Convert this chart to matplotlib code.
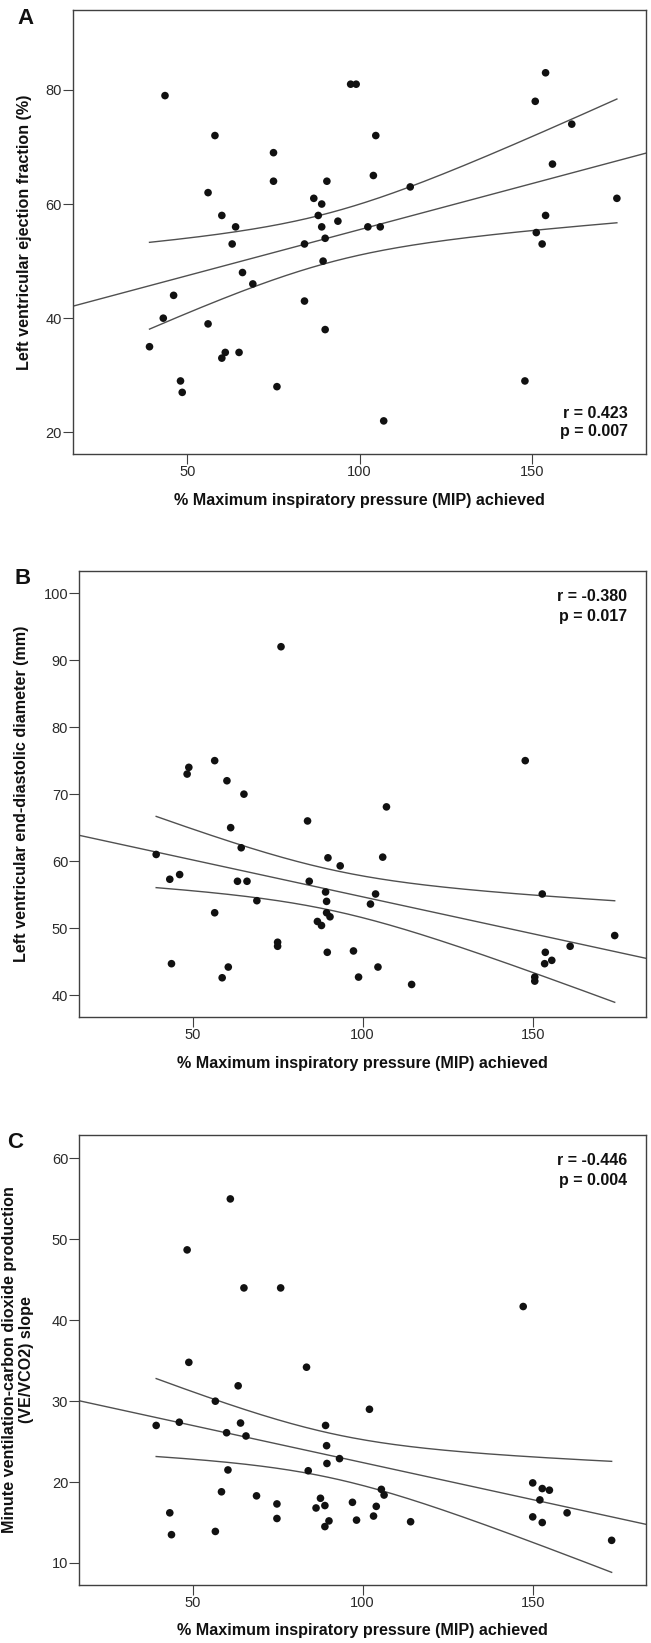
import numpy as np
import matplotlib
matplotlib.use('Agg')
import matplotlib.pyplot as plt

plt.rcParams['font.family'] = ['Liberation Sans', 'DejaVu Sans']

# Datos (% MIP alcanzado vs cada variable)
mip_a = [43.5, 58, 56, 60, 64, 63, 75, 75, 86.7, 89, 88, 90.5, 89, 90, 84, 93.7,
         97.4, 99, 104.7, 104, 102.4, 106, 114.7, 151, 154, 161.6, 156, 154, 151.3,
         153, 174.7, 89.4, 66, 69, 46, 43, 56, 84, 90, 39, 61, 60, 65, 48, 48.5,
         76, 107, 148]
lvef = [79, 72, 62, 58, 56, 53, 69, 64, 61, 60, 58, 64, 56, 54, 53, 57, 81, 81,
        72, 65, 56, 56, 63, 78, 83, 74, 67, 58, 55, 53, 61, 50, 48, 46, 44, 40,
        39, 43, 38, 35, 34, 33, 34, 29, 27, 28, 22, 29]

mip_b = [76, 56.5, 48.9, 48.4, 60.1, 147.8, 65.1, 107, 83.8, 61.2, 64.3, 39.3,
         89.8, 105.9, 93.4, 43.3, 46.2, 63.2, 66, 84.3, 89.1, 89.4, 103.8, 102.3,
         68.9, 56.5, 89.4, 90.4, 86.7, 87.9, 75, 75, 89.6, 97.3, 43.8, 60.5, 58.7,
         98.8, 104.5, 114.4, 152.8, 153.7, 153.5, 155.6, 161, 150.6, 150.6, 174.1]
lvedd = [92, 75, 74, 73, 72, 75, 70, 68.1, 66, 65, 62, 61, 60.5, 60.6, 59.3, 57.3,
         58, 57, 57, 57, 55.4, 54, 55.1, 53.6, 54.1, 52.3, 52.3, 51.7, 51, 50.4,
         47.9, 47.3, 46.4, 46.6, 44.7, 44.2, 42.6, 42.7, 44.2, 41.6, 55.1, 46.4,
         44.7, 45.2, 47.3, 42.7, 42.1, 48.9]

mip_c = [61.1, 48.4, 65.1, 75.9, 147.2, 48.9, 83.5, 63.4, 56.7, 102, 39.3, 46.1,
         64.1, 89.1, 60, 65.7, 89.4, 93.2, 89.5, 60.4, 84, 58.5, 68.8, 74.8, 74.8,
         87.6, 86.3, 88.9, 97, 104, 105.5, 106.3, 103.2, 98.2, 90.1, 88.9, 114.1,
         43.3, 43.8, 56.7, 150, 152.8, 154.9, 152.1, 150, 152.8, 160.1, 173.2]
veco2 = [55, 48.7, 44, 44, 41.7, 34.8, 34.2, 31.9, 30, 29, 27, 27.4, 27.3, 27,
         26.1, 25.7, 24.5, 22.9, 22.3, 21.5, 21.4, 18.8, 18.3, 17.3, 15.5, 18,
         16.8, 17.1, 17.5, 17, 19.1, 18.4, 15.8, 15.3, 15.2, 14.5, 15.1, 16.2,
         13.5, 13.9, 19.9, 19.2, 19, 17.8, 15.7, 15, 16.2, 12.8]

x_label = '% Maximum inspiratory pressure (MIP) achieved'
x_ticks = [50, 100, 150]
x_lim = (16.7, 183.3)
T_CRIT = 2.013  # t(0.975, gl ~ 46)


def recta_ic(x, y, xs):
    # recta de minimos cuadrados y error estandar de la media ajustada
    x = np.asarray(x, float)
    y = np.asarray(y, float)
    n = len(x)
    b, a = np.polyfit(x, y, 1)
    s = np.sqrt(np.sum((y - (a + b * x)) ** 2) / (n - 2))
    se = s * np.sqrt(1 / n + (xs - x.mean()) ** 2 / np.sum((x - x.mean()) ** 2))
    return a, b, se


def panel(ax, x, y, ylim, yticks, ylabel, ylab_x, r_text, p_text, r_y):
    xs_full = np.linspace(x_lim[0], x_lim[1], 200)
    xs_band = np.linspace(min(x), max(x), 200)
    a, b, se = recta_ic(x, y, xs_band)
    ax.plot(xs_full, a + b * xs_full, color='#505050', lw=1.0, zorder=2)
    ax.plot(xs_band, a + b * xs_band + T_CRIT * se, color='#505050', lw=1.0, zorder=2)
    ax.plot(xs_band, a + b * xs_band - T_CRIT * se, color='#505050', lw=1.0, zorder=2)
    ax.scatter(x, y, s=30, color='#111111', edgecolors='none', zorder=3)

    ax.set_xlim(x_lim)
    ax.set_ylim(ylim)
    ax.set_xticks(x_ticks)
    ax.set_yticks(yticks)
    ax.tick_params(direction='out', length=7, width=0.8, color='#404040',
                   labelsize=10.5, labelcolor='#2a2a2a', pad=1,
                   top=False, right=False)
    for sp in ax.spines.values():
        sp.set_color('#404040')
        sp.set_linewidth(1.0)

    ax.set_xlabel(x_label, fontsize=11.6, fontweight='bold', color='#111111')
    ax.xaxis.set_label_coords(0.5, -46 / (ax.get_position().height * 1643))
    ax.xaxis.label.set_va('center')
    ax.set_ylabel(ylabel, fontsize=11.6, fontweight='bold', color='#111111',
                  linespacing=1.15)
    w = ax.get_position().width * 651
    x0 = ax.get_position().x0 * 651
    ax.yaxis.set_label_coords((ylab_x - x0) / w, 0.5)
    ax.yaxis.label.set_va('center')

    ax.text(0.967, r_y[0], r_text, transform=ax.transAxes, ha='right', va='center',
            fontsize=11.5, fontweight='bold', color='#111111')
    ax.text(0.967, r_y[1], p_text, transform=ax.transAxes, ha='right', va='center',
            fontsize=11.5, fontweight='bold', color='#111111')


fig = plt.figure(figsize=(6.51, 16.43), dpi=100)
H = 1643.0
W = 651.0

axA = fig.add_axes([72.7 / W, 1 - 454 / H, (646.5 - 72.7) / W, (454 - 10) / H])
axB = fig.add_axes([79.3 / W, 1 - 1017.3 / H, (646 - 79.3) / W, (1017.3 - 571) / H])
axC = fig.add_axes([79.3 / W, 1 - 1585 / H, (646 - 79.3) / W, (1585 - 1135) / H])

panel(axA, mip_a, lvef, (16.2, 94), [20, 40, 60, 80],
      'Left ventricular ejection fraction (%)', 25,
      'r = 0.423', 'p = 0.007', (0.092, 0.05))
panel(axB, mip_b, lvedd, (36.7, 103.3), [40, 50, 60, 70, 80, 90, 100],
      'Left ventricular end-diastolic diameter (mm)', 22,
      'r = -0.380', 'p = 0.017', (0.942, 0.897))
panel(axC, mip_c, veco2, (7.28, 62.9), [10, 20, 30, 40, 50, 60],
      'Minute ventilation-carbon dioxide production\n(VE/VCO2) slope', 18,
      'r = -0.446', 'p = 0.004', (0.944, 0.90))

# letras de cada panel
for letra, (px, py) in zip(['A', 'B', 'C'], [(25, 18), (22.5, 578), (15, 1143)]):
    fig.text(px / W, 1 - py / H, letra, fontsize=16, fontweight='bold',
             ha='center', va='center', color='#111111')

fig.savefig('out.png', dpi=100)
